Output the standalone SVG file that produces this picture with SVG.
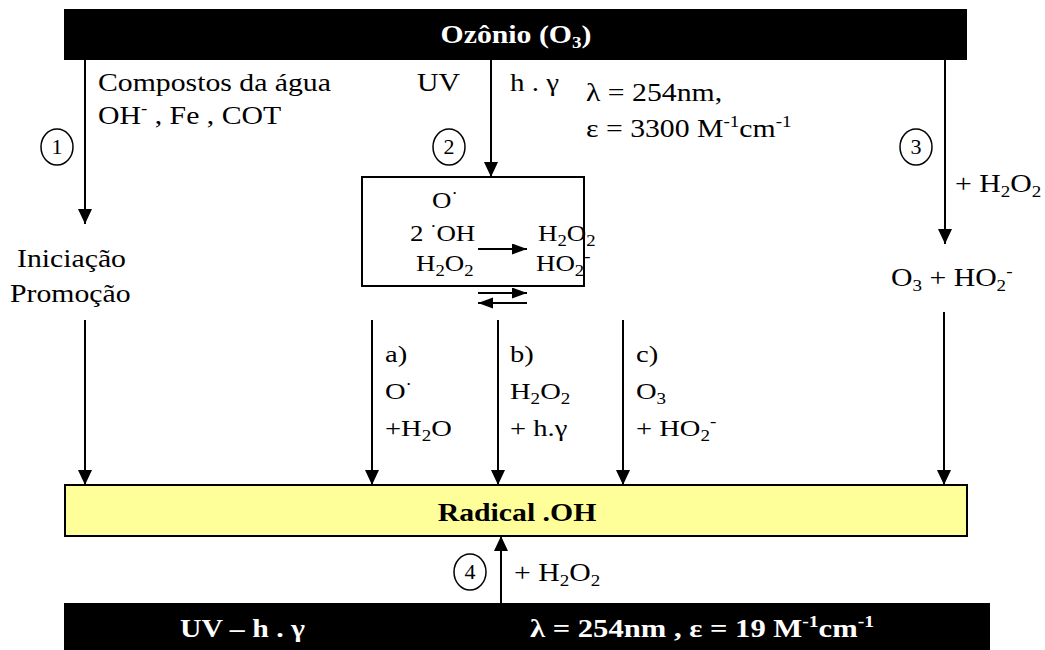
<svg xmlns="http://www.w3.org/2000/svg" width="1045" height="650" viewBox="0 0 1045 650">
<style>
text{font-family:"Liberation Serif","Times New Roman",serif;font-size:25px;fill:#000}
.w{fill:#fff;font-weight:bold}
.b{font-weight:bold}
.m{font-size:23px}
.l{font-size:24px}
.s{font-size:16px}
.n{font-size:20px;text-anchor:middle}
.ln{stroke:#000;stroke-width:2;fill:none}
.circ{fill:#fff;stroke:#000;stroke-width:1.5}
</style>
<defs>
<marker id="ah" markerUnits="userSpaceOnUse" markerWidth="14" markerHeight="16" refX="15" refY="7" orient="auto">
<path d="M0,0 L15,7 L0,14 Z" fill="#000"/>
</marker>
<marker id="ahs" markerUnits="userSpaceOnUse" markerWidth="16" markerHeight="12" refX="15" refY="5.5" orient="auto">
<path d="M0,0 L15,5.5 L0,11 Z" fill="#000"/>
</marker>
</defs>
<rect width="1045" height="650" fill="#fff"/>
<g id="ozonio">
<rect x="64" y="9" width="903" height="51" fill="#000"/>
<text class="w" transform="translate(516,43) scale(1.19,1)" text-anchor="middle">Ozônio (O<tspan class="s" dy="5">3</tspan><tspan dy="-5">)</tspan></text>
</g>
<g id="uv-bar">
<rect x="64" y="603" width="926" height="47" fill="#000"/>
<text class="w" transform="translate(180,637) scale(1.19,1)">UV – h . γ</text>
<text class="w" x="530" y="637" textLength="344" lengthAdjust="spacingAndGlyphs">λ = 254nm , ε = 19 M<tspan class="s" dy="-10">-1</tspan><tspan dy="10">cm</tspan><tspan class="s" dy="-10">-1</tspan></text>
</g>
<g id="radical">
<rect x="65" y="485" width="902" height="51" fill="#ffff99" stroke="#000" stroke-width="2"/>
<text class="b" transform="translate(517,521) scale(1.19,1)" text-anchor="middle">Radical .OH</text>
</g>
<g id="uv-box">
<rect x="362" y="177" width="222" height="109" fill="#fff" stroke="#000" stroke-width="2"/>
<text class="m" transform="translate(432,208) scale(1.17,1)">O<tspan class="s" dy="-9">·</tspan></text>
<text class="m" transform="translate(410,241) scale(1.17,1)">2 <tspan class="s" dy="-9">·</tspan><tspan dy="9">OH</tspan></text>
<text class="m" transform="translate(416,271) scale(1.17,1)">H<tspan class="s" dy="5">2</tspan><tspan dy="-5">O</tspan><tspan class="s" dy="5">2</tspan></text>
<text class="m" transform="translate(538,241) scale(1.17,1)">H<tspan class="s" dy="5">2</tspan><tspan dy="-5">O</tspan><tspan class="s" dy="5">2</tspan></text>
<text class="m" transform="translate(536,271) scale(1.17,1)">HO<tspan class="s" dy="5">2</tspan><tspan class="s" dy="-14">-</tspan></text>
</g>
<g id="n1"><ellipse class="circ" cx="57" cy="147" rx="16" ry="18"/><text class="n" transform="translate(57,154) scale(1.1,1)">1</text></g>
<g id="n2"><ellipse class="circ" cx="449" cy="147" rx="16" ry="18"/><text class="n" transform="translate(449,154) scale(1.1,1)">2</text></g>
<g id="n3"><ellipse class="circ" cx="916" cy="147" rx="16" ry="18"/><text class="n" transform="translate(916,154) scale(1.1,1)">3</text></g>
<g id="n4"><ellipse class="circ" cx="470" cy="572" rx="16" ry="18"/><text class="n" transform="translate(470,579) scale(1.1,1)">4</text></g>
<g id="labels">
<text transform="translate(98,91) scale(1.19,1)">Compostos da água</text>
<text transform="translate(98,124) scale(1.19,1)">OH<tspan class="s" dy="-10">-</tspan><tspan dy="10"> , Fe , COT</tspan></text>
<text transform="translate(417,91) scale(1.19,1)">UV</text>
<text x="510" y="91" textLength="49" lengthAdjust="spacingAndGlyphs">h . γ</text>
<text transform="translate(586,101) scale(1.19,1)">λ = 254nm,</text>
<text transform="translate(586,137) scale(1.19,1)">ε = 3300 M<tspan class="s" dy="-10">-1</tspan><tspan dy="10">cm</tspan><tspan class="s" dy="-10">-1</tspan></text>
<text transform="translate(17,267) scale(1.19,1)">Iniciação</text>
<text transform="translate(10,302) scale(1.19,1)">Promoção</text>
<text transform="translate(955,192) scale(1.19,1)">+ H<tspan class="s" dy="5">2</tspan><tspan dy="-5">O</tspan><tspan class="s" dy="5">2</tspan></text>
<text transform="translate(891,286) scale(1.19,1)">O<tspan class="s" dy="5">3</tspan><tspan dy="-5"> + HO</tspan><tspan class="s" dy="5">2</tspan><tspan class="s" dy="-14">-</tspan></text>
<text class="l" transform="translate(385,362) scale(1.19,1)">a)</text>
<text class="l" transform="translate(385,399) scale(1.19,1)">O<tspan class="s" dy="-9">·</tspan></text>
<text class="l" transform="translate(385,436) scale(1.19,1)">+H<tspan class="s" dy="5">2</tspan><tspan dy="-5">O</tspan></text>
<text class="l" transform="translate(510,362) scale(1.19,1)">b)</text>
<text class="l" transform="translate(510,399) scale(1.19,1)">H<tspan class="s" dy="5">2</tspan><tspan dy="-5">O</tspan><tspan class="s" dy="5">2</tspan></text>
<text class="l" transform="translate(510,436) scale(1.19,1)">+ h.γ</text>
<text class="l" transform="translate(636,362) scale(1.19,1)">c)</text>
<text class="l" transform="translate(636,399) scale(1.19,1)">O<tspan class="s" dy="5">3</tspan></text>
<text class="l" transform="translate(636,436) scale(1.19,1)">+ HO<tspan class="s" dy="5">2</tspan><tspan class="s" dy="-14">-</tspan></text>
<text transform="translate(514,581) scale(1.19,1)">+ H<tspan class="s" dy="5">2</tspan><tspan dy="-5">O</tspan><tspan class="s" dy="5">2</tspan></text>
</g>
<g id="connectors">
<line class="ln" x1="85" y1="60" x2="85" y2="224" marker-end="url(#ah)"/>
<line class="ln" x1="491" y1="60" x2="491" y2="177" marker-end="url(#ah)"/>
<line class="ln" x1="945" y1="60" x2="945" y2="244" marker-end="url(#ah)"/>
<line class="ln" x1="478" y1="249" x2="527" y2="249" marker-end="url(#ahs)"/>
<line class="ln" x1="478" y1="293" x2="527" y2="293" marker-end="url(#ahs)"/>
<line class="ln" x1="527" y1="303" x2="478" y2="303" marker-end="url(#ahs)"/>
<line class="ln" x1="85" y1="320" x2="85" y2="485" marker-end="url(#ah)"/>
<line class="ln" x1="372" y1="320" x2="372" y2="485" marker-end="url(#ah)"/>
<line class="ln" x1="498" y1="320" x2="498" y2="485" marker-end="url(#ah)"/>
<line class="ln" x1="623" y1="320" x2="623" y2="485" marker-end="url(#ah)"/>
<line class="ln" x1="944" y1="312" x2="944" y2="485" marker-end="url(#ah)"/>
<line class="ln" x1="501" y1="603" x2="501" y2="536" marker-end="url(#ah)"/>
</g>
</svg>
